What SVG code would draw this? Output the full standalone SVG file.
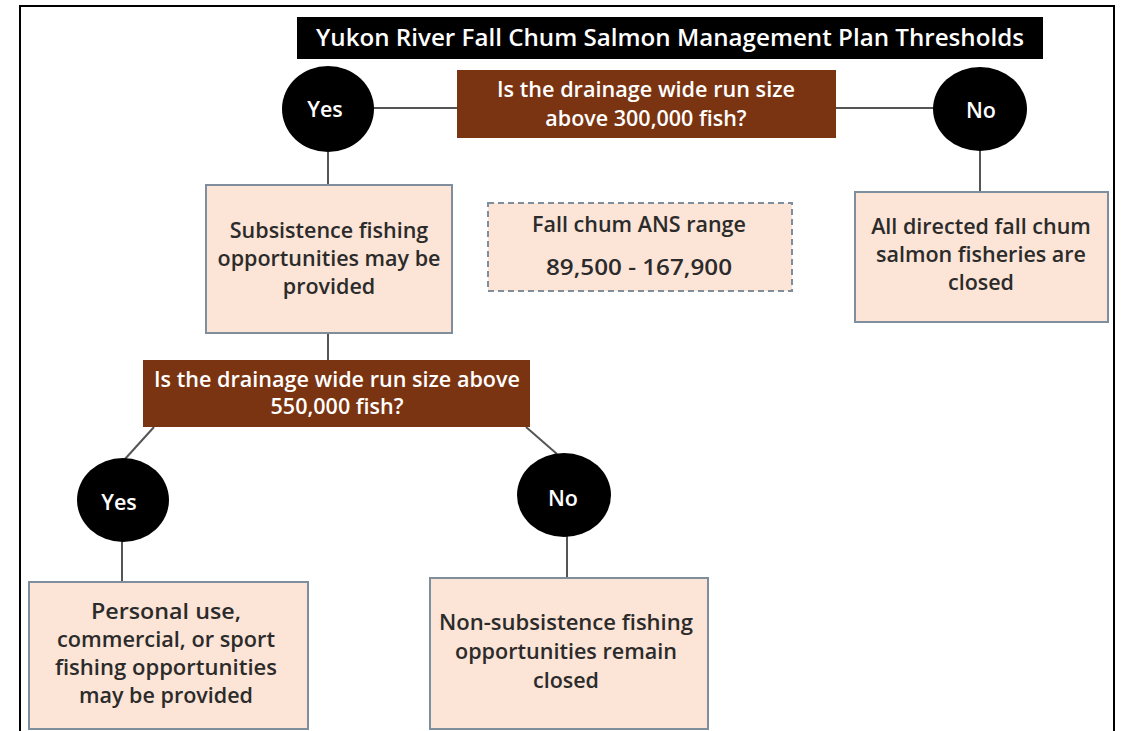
<svg xmlns="http://www.w3.org/2000/svg" width="1122" height="731" viewBox="0 0 1122 731">
<style>
.t{font-family:"Open Sans","Noto Sans",sans-serif;font-weight:600;text-anchor:middle}
.box{fill:#fce4d6;stroke:#7f8e9c;stroke-width:2}
.dec{fill:#7b3411}
.wt{fill:#ffffff;font-size:21.5px}
.dk{fill:#2b2b2b;font-size:21.5px}
.cn{fill:#000000}
.ln{stroke:#555555;stroke-width:2;fill:none}
</style>
<rect x="0" y="0" width="1122" height="731" fill="#ffffff"/>
<rect x="20" y="6" width="1094" height="740" fill="#ffffff" stroke="#000000" stroke-width="2"/>
<g id="title">
<rect x="297" y="17" width="746" height="42" fill="#000000"/>
<text class="t wt" x="670" y="46" style="font-size:23px" textLength="708" lengthAdjust="spacingAndGlyphs">Yukon River Fall Chum Salmon Management Plan Thresholds</text>
</g>
<g id="connectors">
<line class="ln" x1="373" y1="108" x2="457" y2="108"/>
<line class="ln" x1="836" y1="108" x2="934" y2="108"/>
<line class="ln" x1="328" y1="152" x2="328" y2="185"/>
<line class="ln" x1="980" y1="150" x2="980" y2="192"/>
<line class="ln" x1="328" y1="334" x2="328" y2="360"/>
<line class="ln" x1="154" y1="427" x2="125" y2="459"/>
<line class="ln" x1="526" y1="427" x2="557" y2="454"/>
<line class="ln" x1="122" y1="541" x2="122" y2="582"/>
<line class="ln" x1="567" y1="536" x2="567" y2="578"/>
</g>
<g id="q1">
<rect class="dec" x="457" y="70" width="379" height="68"/>
<text class="t wt" x="646" y="97" textLength="298" lengthAdjust="spacingAndGlyphs">Is the drainage wide run size</text>
<text class="t wt" x="646" y="126">above 300,000 fish?</text>
</g>
<g id="yes1">
<ellipse class="cn" cx="328" cy="109" rx="46" ry="43"/>
<text class="t wt" x="325" y="117">Yes</text>
</g>
<g id="no1">
<ellipse class="cn" cx="980" cy="109" rx="47" ry="42"/>
<text class="t wt" x="981" y="118">No</text>
</g>
<g id="subsistence">
<rect class="box" x="206" y="185" width="246" height="148"/>
<text class="t dk" x="329" y="238">Subsistence fishing</text>
<text class="t dk" x="329" y="266">opportunities may be</text>
<text class="t dk" x="329" y="294">provided</text>
</g>
<g id="ans">
<rect x="488" y="203" width="304" height="88" fill="#fce4d6" stroke="#7f8e9c" stroke-width="2" stroke-dasharray="6,4"/>
<text class="t dk" x="639" y="232">Fall chum ANS range</text>
<text class="t dk" x="639" y="275" textLength="186" lengthAdjust="spacingAndGlyphs">89,500 - 167,900</text>
</g>
<g id="closed">
<rect class="box" x="855" y="192" width="253" height="130"/>
<text class="t dk" x="981" y="234">All directed fall chum</text>
<text class="t dk" x="981" y="262">salmon fisheries are</text>
<text class="t dk" x="981" y="290">closed</text>
</g>
<g id="q2">
<rect class="dec" x="143" y="360" width="387" height="67"/>
<text class="t wt" x="337" y="387" textLength="366" lengthAdjust="spacingAndGlyphs">Is the drainage wide run size above</text>
<text class="t wt" x="337" y="414">550,000 fish?</text>
</g>
<g id="yes2">
<ellipse class="cn" cx="123" cy="500" rx="46" ry="42"/>
<text class="t wt" x="119" y="510">Yes</text>
</g>
<g id="no2">
<ellipse class="cn" cx="564" cy="495" rx="47" ry="42"/>
<text class="t wt" x="563" y="506">No</text>
</g>
<g id="personal">
<rect class="box" x="29" y="582" width="279" height="147"/>
<text class="t dk" x="166" y="619" textLength="150" lengthAdjust="spacingAndGlyphs">Personal use,</text>
<text class="t dk" x="166" y="647" textLength="218" lengthAdjust="spacingAndGlyphs">commercial, or sport</text>
<text class="t dk" x="166" y="675" textLength="222" lengthAdjust="spacingAndGlyphs">fishing opportunities</text>
<text class="t dk" x="166" y="703" textLength="174" lengthAdjust="spacingAndGlyphs">may be provided</text>
</g>
<g id="nonsub">
<rect class="box" x="430" y="578" width="278" height="151"/>
<text class="t dk" x="566" y="630" textLength="254" lengthAdjust="spacingAndGlyphs">Non-subsistence fishing</text>
<text class="t dk" x="566" y="659" textLength="222" lengthAdjust="spacingAndGlyphs">opportunities remain</text>
<text class="t dk" x="566" y="688" textLength="66" lengthAdjust="spacingAndGlyphs">closed</text>
</g>
</svg>
